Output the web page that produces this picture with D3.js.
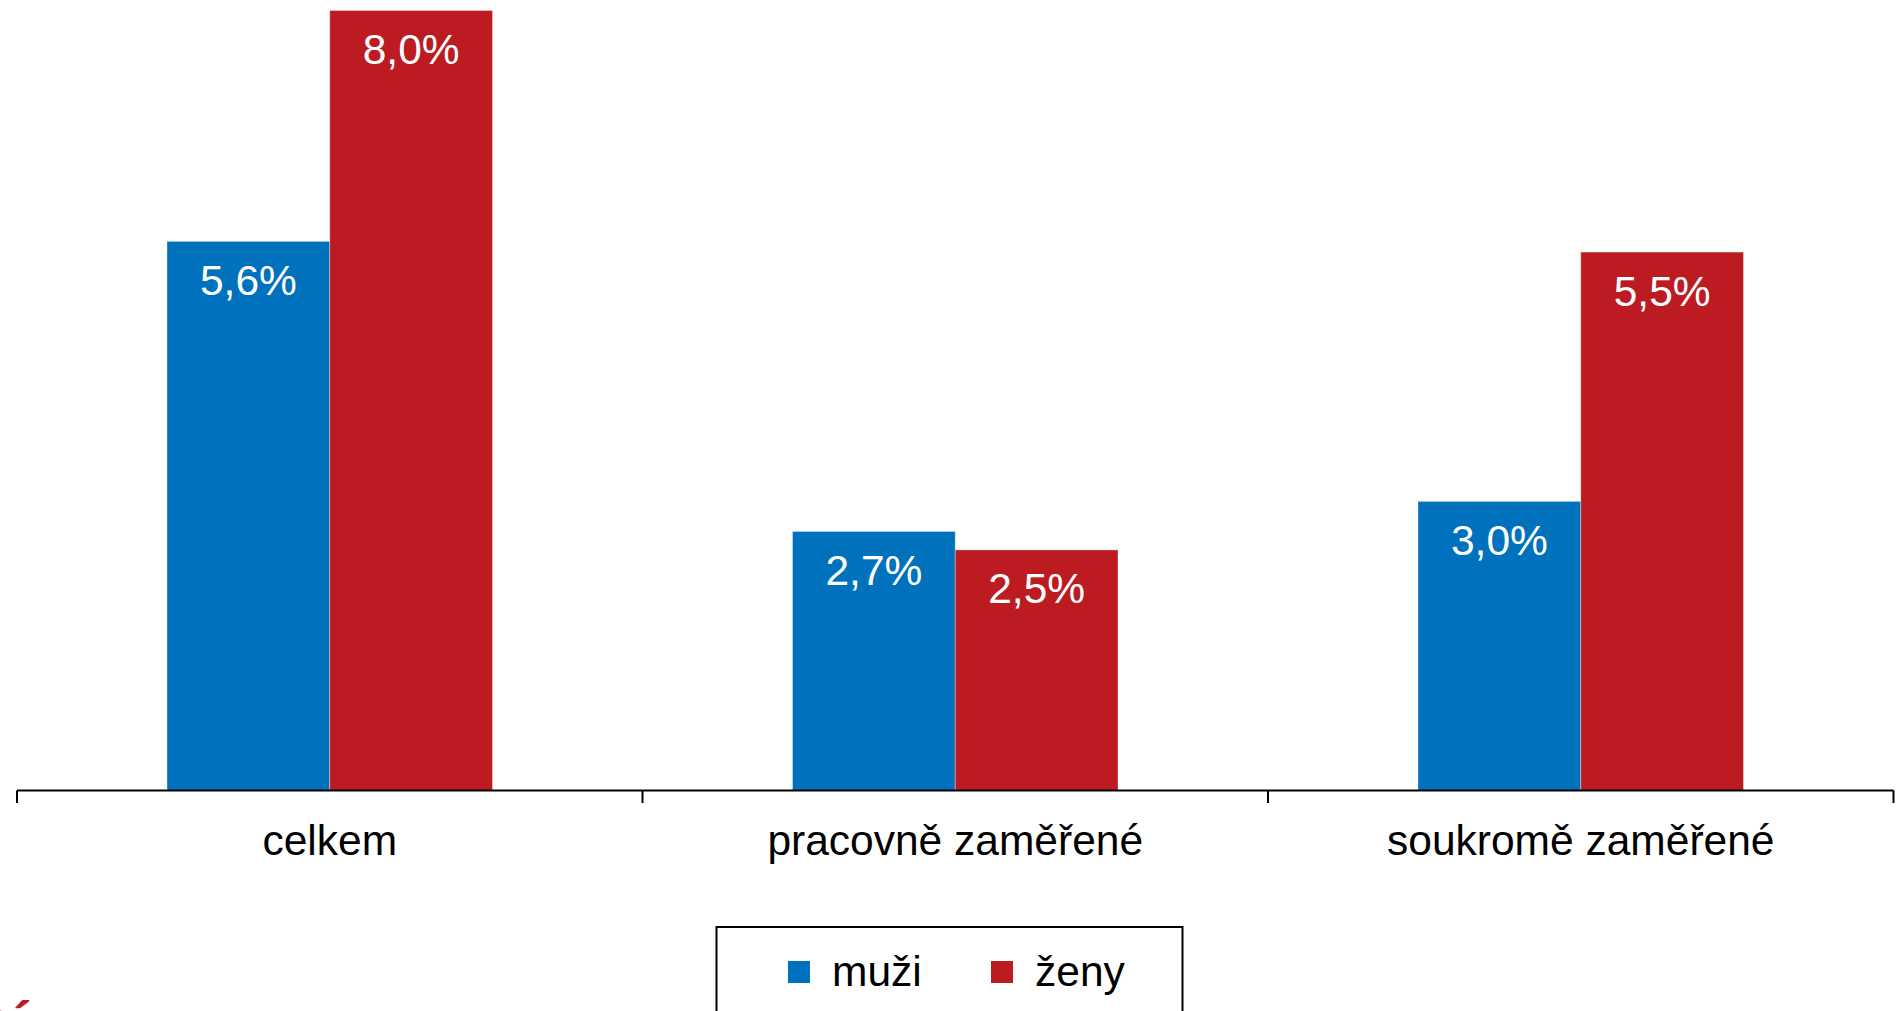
<!DOCTYPE html>
<html>
<head>
<meta charset="UTF-8" />
<title>muži a ženy</title>
<script src="https://d3js.org/d3.v7.min.js"></script>
<style>
body {
    margin: 0;
    background: #fff;
    overflow: hidden;
    font-family: "Liberation Sans", Arial, sans-serif;
}
.value-label {
    fill: #fff;
    font-size: 42.5px;
    text-anchor: middle;
}
.cat-label {
    fill: #000;
    font-size: 42.5px;
    text-anchor: middle;
}
.legend text {
    font-size: 42.5px;
    fill: #000;
}
</style>
</head>
<body>
<svg id="chart" width="1897" height="1011"></svg>
<script>
var categories = ['celkem', 'pracovně zaměřené', 'soukromě zaměřené'];
var seriesNames = ['muži', 'ženy'];
var muzi = [5.66, 2.67, 2.98];
var zeny = [8.04, 2.48, 5.55];
var labelsMuzi = ['5,6%', '2,7%', '3,0%'];
var labelsZeny = ['8,0%', '2,5%', '5,5%'];
var colors = ['#0071bd', '#bc1b22'];

var svg = d3.select('#chart');

var x0 = d3.scaleBand().domain(categories).range([17, 1893.5]).padding(0);
var x1 = d3.scaleBand().domain(seriesNames).range([150, x0.bandwidth() - 150]).padding(0);
var y = d3.scaleLinear().domain([0, 8.04]).range([790.5, 10.5]);

var rows = categories.map(function(c, i) {
    return {
        cat: c,
        vals: [
            { s: seriesNames[0], v: muzi[i], label: labelsMuzi[i], color: colors[0] },
            { s: seriesNames[1], v: zeny[i], label: labelsZeny[i], color: colors[1] }
        ]
    };
});

var groups = svg.append('g').selectAll('g').data(rows).enter().append('g')
    .attr('transform', function(d) { return 'translate(' + x0(d.cat) + ',0)'; });

groups.selectAll('rect').data(function(d) { return d.vals; }).enter().append('rect')
    .attr('x', function(d) { return x1(d.s); })
    .attr('width', x1.bandwidth())
    .attr('y', function(d) { return y(d.v); })
    .attr('height', function(d) { return y(0) - y(d.v); })
    .attr('fill', function(d) { return d.color; })
    .attr('stroke', 'rgba(255,255,255,0.35)')
    .attr('stroke-width', 1);

groups.selectAll('text').data(function(d) { return d.vals; }).enter().append('text')
    .attr('class', 'value-label')
    .attr('x', function(d) { return x1(d.s) + x1.bandwidth() / 2; })
    .attr('y', function(d) { return y(d.v) + 53.5; })
    .text(function(d) { return d.label; });

// x axis with ticks between categories
var axis = svg.append('g').attr('transform', 'translate(0,' + y(0) + ')');
axis.append('line')
    .attr('x1', x0.range()[0]).attr('x2', x0.range()[1])
    .attr('stroke', '#000').attr('stroke-width', 2);
var edges = categories.map(function(c) { return x0(c); }).concat([x0.range()[1]]);
axis.selectAll('line.tick').data(edges).enter().append('line')
    .attr('class', 'tick')
    .attr('x1', function(d) { return d; }).attr('x2', function(d) { return d; })
    .attr('y1', 0).attr('y2', 12.5)
    .attr('stroke', '#000').attr('stroke-width', 2);
axis.selectAll('text').data(categories).enter().append('text')
    .attr('class', 'cat-label')
    .attr('x', function(d) { return x0(d) + x0.bandwidth() / 2; })
    .attr('y', 64.5)
    .text(function(d) { return d; });

// legend
var legend = svg.append('g').attr('class', 'legend');
legend.append('rect')
    .attr('x', 716.5).attr('y', 927)
    .attr('width', 466).attr('height', 110)
    .attr('fill', '#fff').attr('stroke', '#000').attr('stroke-width', 2);
var legX = [788, 991];
seriesNames.forEach(function(s, i) {
    legend.append('rect')
        .attr('x', legX[i]).attr('y', 961)
        .attr('width', 22).attr('height', 22)
        .attr('fill', colors[i]);
    legend.append('text')
        .attr('x', legX[i] + 44).attr('y', 986)
        .text(s);
});

// cut-off logo text at bottom-left corner
svg.append('text')
    .attr('x', -22).attr('y', 1040)
    .attr('fill', '#bc1b22')
    .attr('font-size', 56)
    .attr('font-weight', 'bold')
    .text('ní');
</script>
</body>
</html>
